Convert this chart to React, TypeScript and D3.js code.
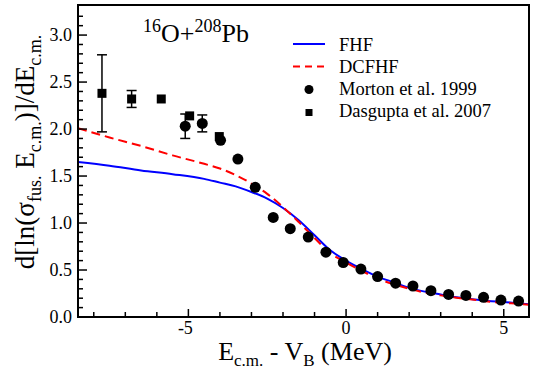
import React from 'react';
import * as d3 from 'd3';

// theory curves (E_cm - V_B in MeV, slope)
const curveE = [-8.5, -7.5, -6.5, -5.5, -4.5, -4, -3.5, -3, -2.5, -2, -1.5, -1, -0.5, 0, 0.5, 1, 1.5, 2, 2.5, 3, 3.5, 4, 4.5, 5, 5.5, 5.8];
const fhf = [1.65, 1.61, 1.56, 1.52, 1.47, 1.43, 1.39, 1.33, 1.26, 1.16, 1.03, 0.87, 0.71, 0.6, 0.51, 0.43, 0.37, 0.31, 0.27, 0.24, 0.21, 0.19, 0.17, 0.16, 0.145, 0.135];
const dcfhf = [2.01, 1.91, 1.82, 1.72, 1.63, 1.58, 1.51, 1.42, 1.31, 1.17, 1.01, 0.84, 0.68, 0.58, 0.49, 0.41, 0.35, 0.3, 0.26, 0.23, 0.205, 0.185, 0.165, 0.15, 0.14, 0.13];

// Morton et al. 1999
const mortonE = [-5.1, -4.56, -3.98, -3.43, -2.88, -2.31, -1.77, -1.2, -0.64, -0.09, 0.47, 1.0, 1.57, 2.12, 2.69, 3.25, 3.8, 4.36, 4.91, 5.47];
const mortonY = [2.03, 2.06, 1.88, 1.68, 1.38, 1.06, 0.94, 0.85, 0.69, 0.58, 0.51, 0.43, 0.36, 0.33, 0.28, 0.24, 0.23, 0.21, 0.18, 0.17];
const mortonErr = [0.13, 0.09, 0.03, 0.03, 0, 0, 0, 0, 0, 0, 0, 0, 0, 0, 0, 0, 0, 0, 0, 0];

// Dasgupta et al. 2007
const dasE = [-7.74, -6.8, -5.86, -4.96, -4.02];
const dasY = [2.38, 2.32, 2.32, 2.14, 1.92];
const dasErr = [0.41, 0.09, 0.04, 0.03, 0.03];

const xMajor = [-5, 0, 5];
const yMajor = [0, 0.5, 1, 1.5, 2, 2.5, 3];

const W = 535;
const H = 372;
const margin = { top: 5, right: 6, bottom: 55, left: 78 };
const FONT = "'Liberation Serif', 'DejaVu Serif', serif";

const App = () => {
  const x = d3.scaleLinear().domain([-8.5, 5.8]).range([margin.left, W - margin.right]);
  const y = d3.scaleLinear().domain([0, 3.32]).range([H - margin.bottom, margin.top]);

  const line = d3.line<number>()
    .x((_, i) => x(curveE[i]))
    .y(d => y(d))
    .curve(d3.curveMonotoneX);

  const x0 = x.range()[0];
  const x1 = x.range()[1];
  const y0 = y.range()[0];
  const y1 = y.range()[1];

  const xMinor = d3.range(-8, 6, 1).filter(v => !xMajor.includes(v));
  const yMinor = d3.range(0, 33, 1).map(v => v / 10).filter(v => !yMajor.some(m => Math.abs(m - v) < 1e-6));

  const errBar = (e: number, v: number, err: number, key: string) => (
    <g key={key}>
      <line x1={x(e)} x2={x(e)} y1={y(v + err)} y2={y(v - err)} />
      <line x1={x(e) - 5} x2={x(e) + 5} y1={y(v + err)} y2={y(v + err)} />
      <line x1={x(e) - 5} x2={x(e) + 5} y1={y(v - err)} y2={y(v - err)} />
    </g>
  );

  return (
    <svg width={W} height={H} fontFamily={FONT} style={{ position: 'absolute', left: 0, top: 0, background: '#fff', fontFamily: FONT }}>
      <defs>
        <clipPath id="plot">
          <rect x={x0} y={y1} width={x1 - x0} height={y0 - y1} />
        </clipPath>
      </defs>

      {/* curves */}
      <g clipPath="url(#plot)" fill="none">
        <path d={line(fhf) || ''} stroke="#0000ff" strokeWidth={2} />
        <path d={line(dcfhf) || ''} stroke="#ff0000" strokeWidth={2} strokeDasharray="9,5" />
      </g>

      {/* error bars */}
      <g stroke="#000" strokeWidth={1.5}>
        {dasE.map((e, i) => dasErr[i] > 0.05 && errBar(e, dasY[i], dasErr[i], 'de' + i))}
        {mortonE.map((e, i) => mortonErr[i] > 0.05 && errBar(e, mortonY[i], mortonErr[i], 'me' + i))}
      </g>

      {/* data points */}
      {dasE.map((e, i) => (
        <rect key={'ds' + i} x={x(e) - 4.5} y={y(dasY[i]) - 4.5} width={9} height={9} fill="#000" />
      ))}
      {mortonE.map((e, i) => (
        <circle key={'mc' + i} cx={x(e)} cy={y(mortonY[i])} r={5.5} fill="#000" />
      ))}

      {/* frame */}
      <rect x={x0} y={y1} width={x1 - x0} height={y0 - y1} fill="none" stroke="#000" strokeWidth={2} />

      {/* ticks */}
      <g stroke="#000" strokeWidth={1.5}>
        {xMajor.map(v => <line key={'xM' + v} x1={x(v)} x2={x(v)} y1={y0} y2={y0 - 8} />)}
        {xMinor.map(v => <line key={'xm' + v} x1={x(v)} x2={x(v)} y1={y0} y2={y0 - 5} />)}
        {yMajor.map(v => <line key={'yM' + v} x1={x0} x2={x0 + 9} y1={y(v)} y2={y(v)} />)}
        {yMinor.map(v => <line key={'ym' + v} x1={x0} x2={x0 + 5} y1={y(v)} y2={y(v)} />)}
      </g>
      <g fontSize={18} fill="#000">
        {xMajor.map(v => (
          <text key={'xl' + v} x={x(v) - (v < 0 ? 3 : 0)} y={y0 + 17} textAnchor="middle">{v < 0 ? '-' + Math.abs(v) : v}</text>
        ))}
        {yMajor.map(v => (
          <text key={'yl' + v} x={x0 - 6} y={y(v) + 6} textAnchor="end">{v.toFixed(1)}</text>
        ))}
      </g>

      {/* axis titles */}
      <text x={305} y={360} fontSize={26} textAnchor="middle">
        E<tspan fontSize={17} dy={6}>c.m.</tspan>
        <tspan dy={-6}> - V</tspan>
        <tspan fontSize={17} dy={6}>B</tspan>
        <tspan dy={-6}> (MeV)</tspan>
      </text>
      <text transform="translate(34,152) rotate(-90)" fontSize={27} textAnchor="middle">
        d[ln(σ<tspan fontSize={18} dy={7}>fus.</tspan>
        <tspan dy={-7}> E</tspan>
        <tspan fontSize={18} dy={7}>c.m.</tspan>
        <tspan dy={-7}>)]/dE</tspan>
        <tspan fontSize={18} dy={7}>c.m.</tspan>
      </text>

      {/* reaction label */}
      <text x={143} y={42} fontSize={26}>
        <tspan fontSize={18} dy={-10}>16</tspan>
        <tspan dy={10}>O+</tspan>
        <tspan fontSize={18} dy={-10}>208</tspan>
        <tspan dy={10}>Pb</tspan>
      </text>

      {/* legend */}
      <g fontSize={18.5}>
        <line x1={293} x2={325} y1={44} y2={44} stroke="#0000ff" strokeWidth={2} />
        <text x={339} y={51}>FHF</text>
        <line x1={293} x2={325} y1={66.5} y2={66.5} stroke="#ff0000" strokeWidth={2} strokeDasharray="7,5" />
        <text x={339} y={73}>DCFHF</text>
        <circle cx={309} cy={89.5} r={4.5} fill="#000" />
        <text x={339} y={95}>Morton et al. 1999</text>
        <rect x={305.5} y={109} width={7} height={7} fill="#000" />
        <text x={339} y={117}>Dasgupta et al. 2007</text>
      </g>
    </svg>
  );
};

export default App;
